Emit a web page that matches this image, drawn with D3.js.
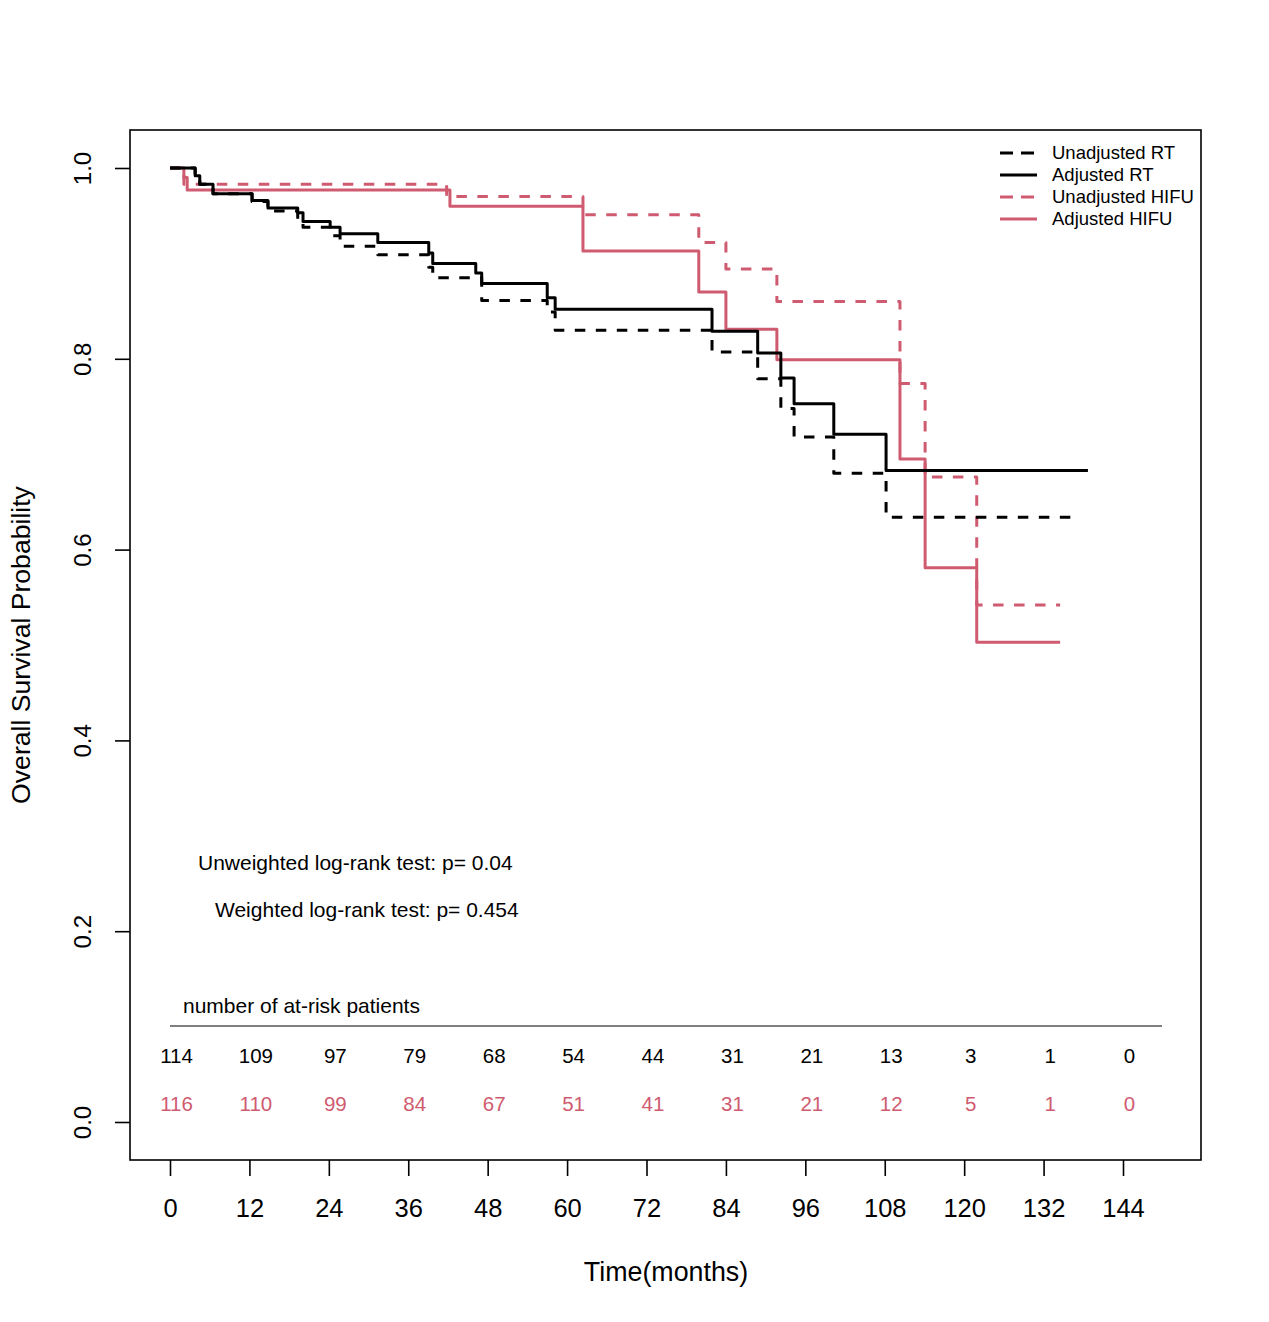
<!DOCTYPE html>
<html>
<head>
<meta charset="utf-8">
<script src="https://cdn.jsdelivr.net/npm/d3@7"></script>
<style>
  body { margin: 0; background: #fff; }
  svg text { font-family: "Liberation Sans", Arial, sans-serif; }
</style>
</head>
<body>
<div id="canvas"><svg width="1269" height="1322"></svg></div>
<script>
// survival step curves (time in months, survival probability)
const rtUnadjTime = [0, 3.8, 4.5, 6.5, 12.4, 14.8, 19.3, 20.1, 24.2, 25.7, 31.4, 39.1, 39.7, 47.1, 57.0, 58.2, 81.9, 88.8, 92.3, 94.3, 100.3, 108.2, 137.2];
const rtUnadjSurv = [1.0, 0.992, 0.983, 0.973, 0.965, 0.955, 0.946, 0.938, 0.929, 0.918, 0.909, 0.896, 0.885, 0.861, 0.849, 0.830, 0.807, 0.779, 0.748, 0.718, 0.680, 0.634, 0.634];

const rtAdjTime = [0, 3.8, 4.5, 6.5, 12.4, 14.8, 19.3, 20.1, 24.2, 25.7, 31.4, 39.1, 39.7, 46.2, 47.1, 57.0, 58.2, 81.9, 88.8, 92.3, 94.3, 100.3, 108.2, 138.7];
const rtAdjSurv = [1.0, 0.992, 0.983, 0.973, 0.966, 0.958, 0.953, 0.944, 0.938, 0.931, 0.922, 0.911, 0.900, 0.890, 0.879, 0.864, 0.852, 0.829, 0.806, 0.780, 0.753, 0.721, 0.683, 0.683];

const hifuUnadjTime = [0, 2.1, 41.8, 62.4, 79.9, 84.0, 91.7, 110.3, 114.1, 121.9, 134.5];
const hifuUnadjSurv = [1.0, 0.983, 0.970, 0.951, 0.922, 0.894, 0.860, 0.774, 0.676, 0.542, 0.542];

const hifuAdjTime = [0, 2.1, 2.6, 42.3, 62.4, 79.9, 84.0, 91.7, 110.3, 114.1, 121.9, 134.5];
const hifuAdjSurv = [1.0, 0.990, 0.977, 0.960, 0.913, 0.870, 0.831, 0.799, 0.695, 0.581, 0.503, 0.503];

// at-risk table
const riskTimes = [0, 12, 24, 36, 48, 60, 72, 84, 96, 108, 120, 132, 144];
const riskRT = [114, 109, 97, 79, 68, 54, 44, 31, 21, 13, 3, 1, 0];
const riskHIFU = [116, 110, 99, 84, 67, 51, 41, 31, 21, 12, 5, 1, 0];

const xTicks = [0, 12, 24, 36, 48, 60, 72, 84, 96, 108, 120, 132, 144];
const yTicks = [0, 0.2, 0.4, 0.6, 0.8, 1.0];

const legendLabels = ["Unadjusted RT", "Adjusted RT", "Unadjusted HIFU", "Adjusted HIFU"];
const pTexts = ["Unweighted log-rank test: p= 0.04", "Weighted log-rank test: p= 0.454"];

const RED = "#cf5b70";

const svg = d3.select("#canvas").select("svg");

const x = d3.scaleLinear().domain([0, 144]).range([170, 1123]);
const y = d3.scaleLinear().domain([0, 1]).range([1122, 168]);

// plot box
svg.append("rect")
    .attr("x", 130).attr("y", 130)
    .attr("width", 1071).attr("height", 1030)
    .attr("fill", "none").attr("stroke", "black").attr("stroke-width", 1.6);

// x axis (ticks hang from the box bottom)
const xAxis = svg.append("g").attr("transform", "translate(0,1160)")
    .call(d3.axisBottom(x).tickValues(xTicks).tickSize(16).tickPadding(23).tickFormat(d3.format("d")));
xAxis.select(".domain").remove();
xAxis.selectAll("line").attr("stroke-width", 1.6);
xAxis.selectAll("text").attr("font-size", 25.5).attr("fill", "black")
    .attr("font-family", "Liberation Sans, Arial, sans-serif");

// y axis
const yAxis = svg.append("g").attr("transform", "translate(130,0)")
    .call(d3.axisLeft(y).tickValues(yTicks).tickSize(15).tickFormat(d3.format(".1f")));
yAxis.select(".domain").remove();
yAxis.selectAll("line").attr("stroke-width", 1.6);
yAxis.selectAll("text").remove();
yAxis.selectAll(".tick").append("text")
    .attr("transform", "translate(-47,0) rotate(-90)")
    .attr("text-anchor", "middle")
    .attr("dy", "0.35em")
    .attr("font-size", 24)
    .attr("fill", "black")
    .attr("font-family", "Liberation Sans, Arial, sans-serif")
    .text(d => d3.format(".1f")(d));

// axis titles
svg.append("text")
    .attr("x", 666).attr("y", 1272).attr("dy", "0.35em")
    .attr("text-anchor", "middle").attr("font-size", 26.8)
    .text("Time(months)");

svg.append("text")
    .attr("transform", "translate(21,645) rotate(-90)")
    .attr("dy", "0.35em")
    .attr("text-anchor", "middle").attr("font-size", 26.6)
    .text("Overall Survival Probability");

// curves
const step = d3.line().x(d => x(d[0])).y(d => y(d[1])).curve(d3.curveStepAfter);

const curves = [
    { t: hifuUnadjTime, s: hifuUnadjSurv, color: RED, dash: "10.5,10.5" },
    { t: hifuAdjTime, s: hifuAdjSurv, color: RED, dash: null },
    { t: rtUnadjTime, s: rtUnadjSurv, color: "black", dash: "10.5,10.5" },
    { t: rtAdjTime, s: rtAdjSurv, color: "black", dash: null }
];

curves.forEach(c => {
    svg.append("path")
        .attr("d", step(d3.zip(c.t, c.s)))
        .attr("fill", "none")
        .attr("stroke", c.color)
        .attr("stroke-width", 3)
        .attr("stroke-dasharray", c.dash)
        .attr("stroke-linejoin", "round");
});

// legend
const legendStyle = [
    { color: "black", dash: "13,8" },
    { color: "black", dash: null },
    { color: RED, dash: "13,8" },
    { color: RED, dash: null }
];
legendLabels.forEach((lab, i) => {
    const ly = 153 + i * 22;
    svg.append("line")
        .attr("x1", 1000).attr("x2", 1037).attr("y1", ly).attr("y2", ly)
        .attr("stroke", legendStyle[i].color).attr("stroke-width", 3)
        .attr("stroke-dasharray", legendStyle[i].dash);
    svg.append("text")
        .attr("x", 1052).attr("y", ly).attr("dy", "0.35em")
        .attr("font-size", 18.5)
        .text(lab);
});

// log-rank text
svg.append("text").attr("x", 198).attr("y", 863).attr("dy", "0.35em")
    .attr("font-size", 21).text(pTexts[0]);
svg.append("text").attr("x", 215).attr("y", 910).attr("dy", "0.35em")
    .attr("font-size", 21).text(pTexts[1]);

// at-risk table
svg.append("text").attr("x", 183).attr("y", 1006).attr("dy", "0.35em")
    .attr("font-size", 21).text("number of at-risk patients");
svg.append("line")
    .attr("x1", 170).attr("x2", 1162).attr("y1", 1026).attr("y2", 1026)
    .attr("stroke", "black").attr("stroke-width", 1.2);

svg.append("g").selectAll("text").data(d3.zip(riskTimes, riskRT)).join("text")
    .attr("x", d => x(d[0]) + 6.5).attr("y", 1056).attr("dy", "0.35em")
    .attr("text-anchor", "middle").attr("font-size", 20.5).attr("fill", "black")
    .text(d => d[1]);

svg.append("g").selectAll("text").data(d3.zip(riskTimes, riskHIFU)).join("text")
    .attr("x", d => x(d[0]) + 6.5).attr("y", 1104).attr("dy", "0.35em")
    .attr("text-anchor", "middle").attr("font-size", 20.5).attr("fill", RED)
    .text(d => d[1]);
</script>
</body>
</html>
